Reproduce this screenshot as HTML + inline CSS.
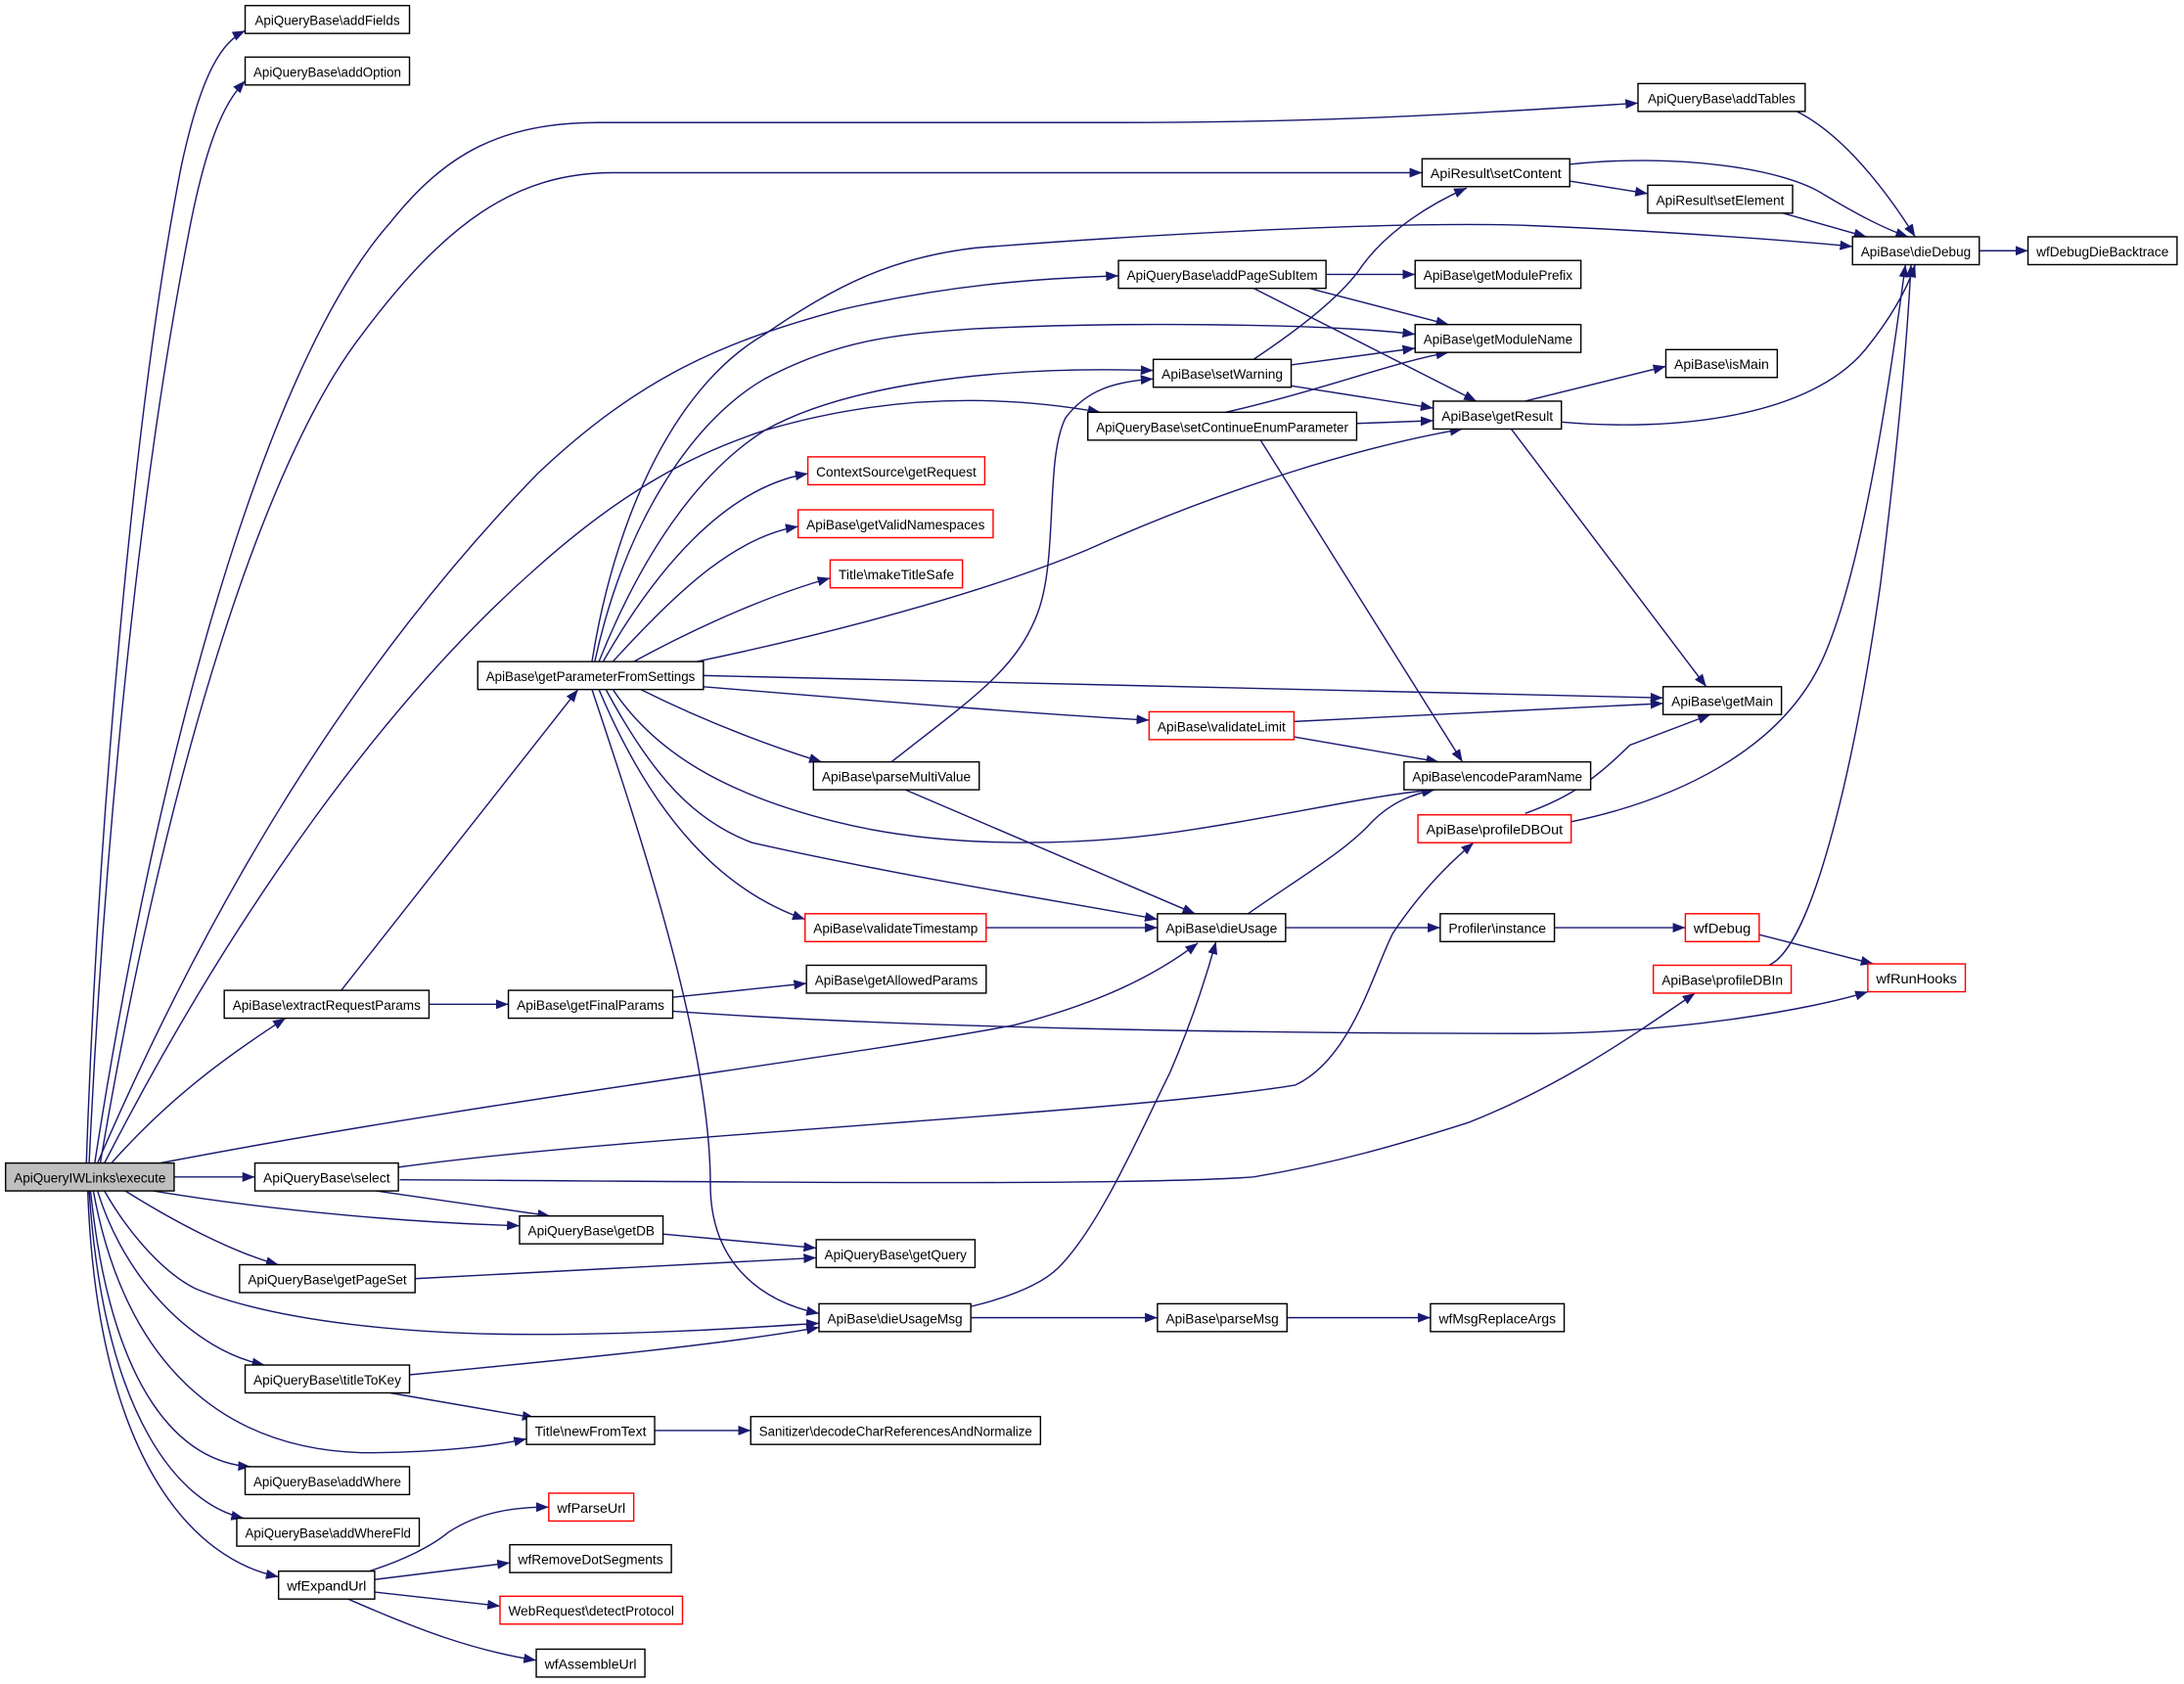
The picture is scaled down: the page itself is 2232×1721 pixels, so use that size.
<!DOCTYPE html>
<html><head><meta charset="utf-8"><style>
html,body{margin:0;padding:0;background:#fff;}
svg{display:block;}
text{font-family:"Liberation Sans",Arial,sans-serif;font-size:10px;fill:#000;}
.e{fill:none;stroke:#191970;stroke-width:1;marker-end:url(#a);}
.n{fill:#fff;stroke:#000;stroke-width:1;}
.r{fill:#fff;stroke:#ff0000;stroke-width:1;}
</style></head><body>
<svg width="2232" height="1721" viewBox="0 0 1568 1209" preserveAspectRatio="none" xmlns="http://www.w3.org/2000/svg">
<defs><marker id="a" markerUnits="userSpaceOnUse" markerWidth="9" markerHeight="7" refX="9" refY="3.5" orient="auto"><path d="M0,0 L9,3.5 L0,7 z" fill="#191970"/></marker></defs>
<rect x="0" y="0" width="1568" height="1209" fill="#fff"/>
<!-- edges -->
<path class="e" d="M62,835 C70,600 95,300 130,120 C145,50 160,30 176,22"/>
<path class="e" d="M64,835 C75,600 100,350 135,170 C150,90 165,70 176,58"/>
<path class="e" d="M68,835 C120,500 200,250 280,160 C320,110 360,88 430,88 L800,88 C950,88 1050,82 1176,74"/>
<path class="e" d="M72,835 C120,550 190,330 260,240 C320,160 370,124 440,124 L1021,124"/>
<path class="e" d="M70,835 C150,650 250,480 386,340 C460,270 520,245 605,222 C680,205 740,200 803,198"/>
<path class="e" d="M75,835 C170,650 280,500 386,407 C450,350 500,325 549,309 C620,288 700,280 790,296"/>
<path class="e" d="M425,475 C440,380 480,280 549,240 C600,205 640,185 700,178 C800,170 1000,158 1100,162 C1200,166 1300,174 1330,177"/>
<path class="e" d="M427,475 C450,370 500,300 549,272 C600,245 640,240 700,236 C800,231 950,232 1016,240"/>
<path class="e" d="M430,475 C460,400 500,340 549,309 C600,280 700,262 828,266"/>
<path class="e" d="M433,475 C470,410 520,350 580,340"/>
<path class="e" d="M440,475 C490,420 530,385 573,378"/>
<path class="e" d="M455,475 C510,445 560,425 596,415"/>
<path class="e" d="M500,475 C620,450 720,420 780,395 C880,350 980,320 1050,308"/>
<path class="e" d="M640,547 C700,500 730,480 745,440 C760,400 750,330 765,300 C780,280 800,274 828,272"/>
<path class="e" d="M952,197 L1016,197"/>
<path class="e" d="M940,207 L1040,233"/>
<path class="e" d="M900,207 L1060,288"/>
<path class="e" d="M927,262 L1016,250"/>
<path class="e" d="M927,277 L1029,293"/>
<path class="e" d="M900,258 C930,238 960,215 975,195 C995,165 1030,145 1053,135"/>
<path class="e" d="M880,296 C950,280 1000,260 1040,253"/>
<path class="e" d="M974,304 L1029,302"/>
<path class="e" d="M905,316 L1050,547"/>
<path class="e" d="M1095,288 L1196,263"/>
<path class="e" d="M1121,303 C1200,310 1300,300 1340,250 C1360,225 1370,205 1375,190"/>
<path class="e" d="M1085,308 L1225,493"/>
<path class="e" d="M1127,118 C1200,110 1280,120 1310,140 C1335,155 1355,165 1370,170"/>
<path class="e" d="M1127,130 L1183,139"/>
<path class="e" d="M1290,80 C1320,95 1350,130 1375,170"/>
<path class="e" d="M1280,153 L1340,170"/>
<path class="e" d="M1421,180 L1456,180"/>
<path class="e" d="M80,835 C120,790 160,760 205,731"/>
<path class="e" d="M245,711 L415,495"/>
<path class="e" d="M308,721 L365,721"/>
<path class="e" d="M483,716 L579,706"/>
<path class="e" d="M483,726 C650,738 900,742 1100,742 C1200,742 1300,725 1341,712"/>
<path class="e" d="M505,485 L1194,501"/>
<path class="e" d="M505,493 C650,505 750,513 825,517"/>
<path class="e" d="M460,495 C510,520 560,538 590,547"/>
<path class="e" d="M440,495 C470,540 520,570 600,590 C680,610 780,608 860,595 C930,584 990,570 1030,567"/>
<path class="e" d="M435,495 C470,560 500,590 540,605 C650,630 780,650 831,660"/>
<path class="e" d="M430,495 C470,590 520,640 578,660"/>
<path class="e" d="M425,495 C460,600 510,750 510,850 C510,910 550,935 588,943"/>
<path class="e" d="M929,518 L1194,505"/>
<path class="e" d="M929,529 L1033,547"/>
<path class="e" d="M650,567 L858,656"/>
<path class="e" d="M708,666 L831,666"/>
<path class="e" d="M896,656 C930,632 965,612 985,590 C1000,575 1015,570 1030,567"/>
<path class="e" d="M923,666 L1034,666"/>
<path class="e" d="M1116,666 L1210,666"/>
<path class="e" d="M1263,671 L1345,692"/>
<path class="e" d="M1270,693 C1300,680 1330,560 1350,420 C1365,300 1370,230 1372,190"/>
<path class="e" d="M1128,590 C1200,575 1280,540 1310,470 C1340,400 1360,250 1368,190"/>
<path class="e" d="M1095,584 C1120,575 1140,565 1170,535 L1228,513"/>
<path class="e" d="M115,835 C350,790 600,760 728,736 C790,720 830,700 860,677"/>
<path class="e" d="M75,855 C95,890 120,915 140,925 C200,950 300,958 382,958 C470,958 540,953 588,950"/>
<path class="e" d="M125,845 L183,845"/>
<path class="e" d="M270,855 L395,873"/>
<path class="e" d="M110,855 C200,870 300,878 373,880"/>
<path class="e" d="M286,838 C450,815 800,800 930,779 C970,760 985,700 1000,670 C1020,640 1040,620 1058,605"/>
<path class="e" d="M287,847 C500,848 800,852 900,845 C960,835 1010,820 1054,806 C1120,780 1170,745 1217,713"/>
<path class="e" d="M476,886 L586,896"/>
<path class="e" d="M298,918 L586,903"/>
<path class="e" d="M90,855 C130,880 170,900 200,908"/>
<path class="e" d="M697,938 C730,930 750,920 760,910 C790,880 820,810 840,770 C855,735 865,705 873,676"/>
<path class="e" d="M697,946 L831,946"/>
<path class="e" d="M924,946 L1027,946"/>
<path class="e" d="M70,855 C90,920 140,970 190,980"/>
<path class="e" d="M294,987 C420,975 520,965 588,953"/>
<path class="e" d="M280,1000 L384,1018"/>
<path class="e" d="M67,855 C90,980 160,1040 260,1043 C320,1043 360,1037 378,1033"/>
<path class="e" d="M470,1027 L539,1027"/>
<path class="e" d="M65,855 C80,1000 130,1050 180,1053"/>
<path class="e" d="M64,855 C75,1020 130,1080 175,1090"/>
<path class="e" d="M63,855 C70,1050 140,1120 200,1132"/>
<path class="e" d="M265,1128 C290,1120 310,1110 322,1100 C345,1085 370,1082 394,1082"/>
<path class="e" d="M269,1134 L366,1122"/>
<path class="e" d="M269,1143 L359,1153"/>
<path class="e" d="M250,1148 C300,1170 340,1185 385,1192"/>
<!-- nodes -->
<g>
<rect x="4" y="835" width="121" height="20" fill="#bfbfbf" stroke="#000"/><text x="64.5" y="849" text-anchor="middle" textLength="109" lengthAdjust="spacingAndGlyphs">ApiQueryIWLinks\execute</text>
<rect class="n" x="176" y="4" width="118" height="20"/><text x="235" y="18" text-anchor="middle" textLength="104" lengthAdjust="spacingAndGlyphs">ApiQueryBase\addFields</text>
<rect class="n" x="176" y="41" width="118" height="20"/><text x="235" y="55" text-anchor="middle" textLength="106" lengthAdjust="spacingAndGlyphs">ApiQueryBase\addOption</text>
<rect class="n" x="1176" y="60" width="120" height="20"/><text x="1236" y="74" text-anchor="middle" textLength="106" lengthAdjust="spacingAndGlyphs">ApiQueryBase\addTables</text>
<rect class="n" x="1021" y="114" width="106" height="20"/><text x="1074" y="128" text-anchor="middle" textLength="94" lengthAdjust="spacingAndGlyphs">ApiResult\setContent</text>
<rect class="n" x="1183" y="133" width="104" height="20"/><text x="1235" y="147" text-anchor="middle" textLength="92" lengthAdjust="spacingAndGlyphs">ApiResult\setElement</text>
<rect class="n" x="1330" y="170" width="91" height="20"/><text x="1375.5" y="184" text-anchor="middle" textLength="79" lengthAdjust="spacingAndGlyphs">ApiBase\dieDebug</text>
<rect class="n" x="1456" y="170" width="107" height="20"/><text x="1509.5" y="184" text-anchor="middle" textLength="95" lengthAdjust="spacingAndGlyphs">wfDebugDieBacktrace</text>
<rect class="n" x="803" y="187" width="149" height="20"/><text x="877.5" y="201" text-anchor="middle" textLength="137" lengthAdjust="spacingAndGlyphs">ApiQueryBase\addPageSubItem</text>
<rect class="n" x="1016" y="187" width="119" height="20"/><text x="1075.5" y="201" text-anchor="middle" textLength="107" lengthAdjust="spacingAndGlyphs">ApiBase\getModulePrefix</text>
<rect class="n" x="1016" y="233" width="119" height="20"/><text x="1075.5" y="247" text-anchor="middle" textLength="107" lengthAdjust="spacingAndGlyphs">ApiBase\getModuleName</text>
<rect class="n" x="828" y="258" width="99" height="20"/><text x="877.5" y="272" text-anchor="middle" textLength="87" lengthAdjust="spacingAndGlyphs">ApiBase\setWarning</text>
<rect class="n" x="1196" y="251" width="80" height="20"/><text x="1236" y="265" text-anchor="middle" textLength="68" lengthAdjust="spacingAndGlyphs">ApiBase\isMain</text>
<rect class="n" x="1029" y="288" width="92" height="20"/><text x="1075" y="302" text-anchor="middle" textLength="80" lengthAdjust="spacingAndGlyphs">ApiBase\getResult</text>
<rect class="n" x="781" y="296" width="193" height="20"/><text x="877.5" y="310" text-anchor="middle" textLength="181" lengthAdjust="spacingAndGlyphs">ApiQueryBase\setContinueEnumParameter</text>
<rect class="r" x="580" y="328" width="127" height="20"/><text x="643.5" y="342" text-anchor="middle" textLength="115" lengthAdjust="spacingAndGlyphs">ContextSource\getRequest</text>
<rect class="r" x="573" y="366" width="140" height="20"/><text x="643" y="380" text-anchor="middle" textLength="128" lengthAdjust="spacingAndGlyphs">ApiBase\getValidNamespaces</text>
<rect class="r" x="596" y="402" width="95" height="20"/><text x="643.5" y="416" text-anchor="middle" textLength="83" lengthAdjust="spacingAndGlyphs">Title\makeTitleSafe</text>
<rect class="n" x="343" y="475" width="162" height="20"/><text x="424" y="489" text-anchor="middle" textLength="150" lengthAdjust="spacingAndGlyphs">ApiBase\getParameterFromSettings</text>
<rect class="n" x="1194" y="493" width="85" height="20"/><text x="1236.5" y="507" text-anchor="middle" textLength="73" lengthAdjust="spacingAndGlyphs">ApiBase\getMain</text>
<rect class="r" x="825" y="511" width="104" height="20"/><text x="877" y="525" text-anchor="middle" textLength="92" lengthAdjust="spacingAndGlyphs">ApiBase\validateLimit</text>
<rect class="n" x="584" y="547" width="119" height="20"/><text x="643.5" y="561" text-anchor="middle" textLength="107" lengthAdjust="spacingAndGlyphs">ApiBase\parseMultiValue</text>
<rect class="n" x="1008" y="547" width="134" height="20"/><text x="1075" y="561" text-anchor="middle" textLength="122" lengthAdjust="spacingAndGlyphs">ApiBase\encodeParamName</text>
<rect class="r" x="1018" y="585" width="110" height="20"/><text x="1073" y="599" text-anchor="middle" textLength="98" lengthAdjust="spacingAndGlyphs">ApiBase\profileDBOut</text>
<rect class="r" x="578" y="656" width="130" height="20"/><text x="643" y="670" text-anchor="middle" textLength="118" lengthAdjust="spacingAndGlyphs">ApiBase\validateTimestamp</text>
<rect class="n" x="831" y="656" width="92" height="20"/><text x="877" y="670" text-anchor="middle" textLength="80" lengthAdjust="spacingAndGlyphs">ApiBase\dieUsage</text>
<rect class="n" x="1034" y="656" width="82" height="20"/><text x="1075" y="670" text-anchor="middle" textLength="70" lengthAdjust="spacingAndGlyphs">Profiler\instance</text>
<rect class="r" x="1210" y="656" width="53" height="20"/><text x="1236.5" y="670" text-anchor="middle" textLength="41" lengthAdjust="spacingAndGlyphs">wfDebug</text>
<rect class="r" x="1187" y="693" width="99" height="20"/><text x="1236.5" y="707" text-anchor="middle" textLength="87" lengthAdjust="spacingAndGlyphs">ApiBase\profileDBIn</text>
<rect class="r" x="1341" y="692" width="70" height="20"/><text x="1376" y="706" text-anchor="middle" textLength="58" lengthAdjust="spacingAndGlyphs">wfRunHooks</text>
<rect class="n" x="161" y="711" width="147" height="20"/><text x="234.5" y="725" text-anchor="middle" textLength="135" lengthAdjust="spacingAndGlyphs">ApiBase\extractRequestParams</text>
<rect class="n" x="365" y="711" width="118" height="20"/><text x="424" y="725" text-anchor="middle" textLength="106" lengthAdjust="spacingAndGlyphs">ApiBase\getFinalParams</text>
<rect class="n" x="579" y="693" width="129" height="20"/><text x="643.5" y="707" text-anchor="middle" textLength="117" lengthAdjust="spacingAndGlyphs">ApiBase\getAllowedParams</text>
<rect class="n" x="183" y="835" width="103" height="20"/><text x="234.5" y="849" text-anchor="middle" textLength="91" lengthAdjust="spacingAndGlyphs">ApiQueryBase\select</text>
<rect class="n" x="373" y="873" width="103" height="20"/><text x="424.5" y="887" text-anchor="middle" textLength="91" lengthAdjust="spacingAndGlyphs">ApiQueryBase\getDB</text>
<rect class="n" x="586" y="890" width="114" height="20"/><text x="643" y="904" text-anchor="middle" textLength="102" lengthAdjust="spacingAndGlyphs">ApiQueryBase\getQuery</text>
<rect class="n" x="172" y="908" width="126" height="20"/><text x="235" y="922" text-anchor="middle" textLength="114" lengthAdjust="spacingAndGlyphs">ApiQueryBase\getPageSet</text>
<rect class="n" x="588" y="936" width="109" height="20"/><text x="642.5" y="950" text-anchor="middle" textLength="97" lengthAdjust="spacingAndGlyphs">ApiBase\dieUsageMsg</text>
<rect class="n" x="831" y="936" width="93" height="20"/><text x="877.5" y="950" text-anchor="middle" textLength="81" lengthAdjust="spacingAndGlyphs">ApiBase\parseMsg</text>
<rect class="n" x="1027" y="936" width="96" height="20"/><text x="1075" y="950" text-anchor="middle" textLength="84" lengthAdjust="spacingAndGlyphs">wfMsgReplaceArgs</text>
<rect class="n" x="176" y="980" width="118" height="20"/><text x="235" y="994" text-anchor="middle" textLength="106" lengthAdjust="spacingAndGlyphs">ApiQueryBase\titleToKey</text>
<rect class="n" x="378" y="1017" width="92" height="20"/><text x="424" y="1031" text-anchor="middle" textLength="80" lengthAdjust="spacingAndGlyphs">Title\newFromText</text>
<rect class="n" x="539" y="1017" width="208" height="20"/><text x="643" y="1031" text-anchor="middle" textLength="196" lengthAdjust="spacingAndGlyphs">Sanitizer\decodeCharReferencesAndNormalize</text>
<rect class="n" x="176" y="1053" width="118" height="20"/><text x="235" y="1067" text-anchor="middle" textLength="106" lengthAdjust="spacingAndGlyphs">ApiQueryBase\addWhere</text>
<rect class="n" x="170" y="1090" width="131" height="20"/><text x="235.5" y="1104" text-anchor="middle" textLength="119" lengthAdjust="spacingAndGlyphs">ApiQueryBase\addWhereFld</text>
<rect class="r" x="394" y="1072" width="61" height="20"/><text x="424.5" y="1086" text-anchor="middle" textLength="49" lengthAdjust="spacingAndGlyphs">wfParseUrl</text>
<rect class="n" x="366" y="1109" width="116" height="20"/><text x="424" y="1123" text-anchor="middle" textLength="104" lengthAdjust="spacingAndGlyphs">wfRemoveDotSegments</text>
<rect class="r" x="359" y="1146" width="131" height="20"/><text x="424.5" y="1160" text-anchor="middle" textLength="119" lengthAdjust="spacingAndGlyphs">WebRequest\detectProtocol</text>
<rect class="n" x="385" y="1184" width="78" height="20"/><text x="424" y="1198" text-anchor="middle" textLength="66" lengthAdjust="spacingAndGlyphs">wfAssembleUrl</text>
<rect class="n" x="200" y="1128" width="69" height="20"/><text x="234.5" y="1142" text-anchor="middle" textLength="57" lengthAdjust="spacingAndGlyphs">wfExpandUrl</text>
</g>
</svg>
</body></html>
